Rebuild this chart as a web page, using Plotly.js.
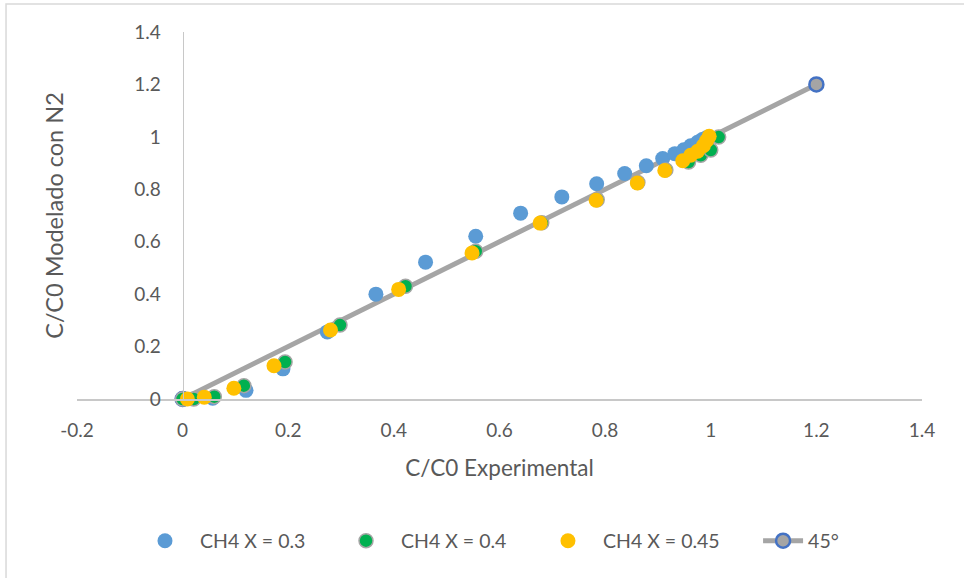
<!DOCTYPE html>
<html>
<head>
<meta charset="utf-8">
<script src="https://cdn.plot.ly/plotly-3.0.1.min.js"></script>
<style>html,body{margin:0;padding:0;background:#fff;}#chart{width:964px;height:578px;}</style>
</head>
<body>
<div id="chart"></div>
<script>
// Series: CH4 X = 0.3
var x03 = [0.0, 0.057, 0.12, 0.19, 0.274, 0.366, 0.46, 0.555, 0.64, 0.718, 0.784, 0.837, 0.878, 0.909, 0.932, 0.949, 0.962, 0.975, 0.984, 0.992];
var y03 = [0.0, 0.003, 0.033, 0.115, 0.256, 0.40, 0.522, 0.621, 0.709, 0.771, 0.821, 0.86, 0.89, 0.917, 0.936, 0.951, 0.966, 0.979, 0.99, 0.997];
// Series: CH4 X = 0.4
var x04 = [0.0, 0.021, 0.06, 0.116, 0.194, 0.298, 0.422, 0.555, 0.68, 0.785, 0.862, 0.915, 0.958, 0.981, 1.0, 1.015];
var y04 = [0.0, 0.0, 0.009, 0.051, 0.141, 0.282, 0.43, 0.564, 0.672, 0.76, 0.826, 0.874, 0.904, 0.93, 0.95, 0.999];
// Series: CH4 X = 0.45
var x045 = [-0.013, 0.009, 0.041, 0.097, 0.173, 0.28, 0.409, 0.548, 0.677, 0.783, 0.861, 0.913, 0.947, 0.962, 0.975, 0.986, 0.992, 0.997];
var y045 = [-0.002, 0.0, 0.007, 0.041, 0.127, 0.263, 0.418, 0.557, 0.671, 0.758, 0.824, 0.872, 0.909, 0.93, 0.945, 0.966, 0.985, 1.002];
// 45 degree reference line
var x45 = [0, 1.2];
var y45 = [0, 1.2];

var names = ['CH4 X = 0.3', 'CH4 X = 0.4', 'CH4 X = 0.45', '45°'];
var xTicks = [-0.2, 0, 0.2, 0.4, 0.6, 0.8, 1, 1.2, 1.4];
var yTicks = [0, 0.2, 0.4, 0.6, 0.8, 1, 1.2, 1.4];

var FONT = 'Lato, Carlito, "Open Sans", sans-serif';
var TXT = '#595959';

var traces = [
  {x: x45, y: y45, name: names[3], type: 'scatter', mode: 'lines+markers', legend: 'legend4',
   line: {color: '#A5A5A5', width: 5},
   marker: {size: 14, color: '#A5A5A5', line: {color: '#4472C4', width: 2.5}}, cliponaxis: false},
  {x: x03, y: y03, name: names[0], type: 'scatter', mode: 'markers', legend: 'legend',
   marker: {size: 15, color: '#5B9BD5'}, cliponaxis: false},
  {x: x04, y: y04, name: names[1], type: 'scatter', mode: 'markers', legend: 'legend2',
   marker: {size: 14, color: '#00B050', line: {color: '#A5A5A5', width: 1.5}}, cliponaxis: false},
  {x: x045, y: y045, name: names[2], type: 'scatter', mode: 'markers', legend: 'legend3',
   marker: {size: 15, color: '#FFC000'}, cliponaxis: false}
];

function leg(xp, iw) {
  return {orientation: 'h', x: xp, xanchor: 'left', y: -0.387, yanchor: 'middle',
          font: {family: FONT, size: 19.5, color: TXT}, itemwidth: iw,
          bgcolor: 'rgba(0,0,0,0)'};
}

var layout = {
  width: 964, height: 578,
  paper_bgcolor: '#ffffff', plot_bgcolor: '#ffffff',
  margin: {l: 77, r: 42, t: 32, b: 179},
  font: {family: FONT, color: TXT, size: 19},
  showlegend: true,
  legend: leg(0.0627, 60),
  legend2: leg(0.3006, 60),
  legend3: leg(0.5396, 60),
  legend4: leg(0.806, 40),
  xaxis: {range: [-0.2, 1.4], tickvals: xTicks, ticktext: xTicks.map(String),
          showgrid: false, zeroline: false, showline: true, linecolor: '#C8C8C8', linewidth: 1.5,
          ticks: 'outside', ticklen: 14, tickcolor: 'rgba(0,0,0,0)',
          tickfont: {family: FONT, size: 19, color: TXT},
          title: {text: 'C/C0 Experimental', font: {family: FONT, size: 22.5, color: TXT}, standoff: 20}},
  yaxis: {range: [0, 1.4], tickvals: yTicks, ticktext: yTicks.map(String),
          anchor: 'free', position: 0.125,
          showgrid: false, zeroline: false, showline: true, linecolor: '#C8C8C8', linewidth: 1.5,
          ticks: 'outside', ticklen: 18, tickcolor: 'rgba(0,0,0,0)',
          tickfont: {family: FONT, size: 19, color: TXT},
          title: {text: 'C/C0 Modelado con N2', font: {family: FONT, size: 23.5, color: TXT}, standoff: 62}},
  shapes: [{type: 'rect', xref: 'paper', yref: 'paper', x0: -0.084, x1: 1.3, y0: -0.7, y1: 1.0763,
            line: {color: '#D9D9D9', width: 1.5}, fillcolor: 'rgba(0,0,0,0)', layer: 'below'}]
};

Plotly.newPlot('chart', traces, layout, {displayModeBar: false, staticPlot: true});
</script>
</body>
</html>
